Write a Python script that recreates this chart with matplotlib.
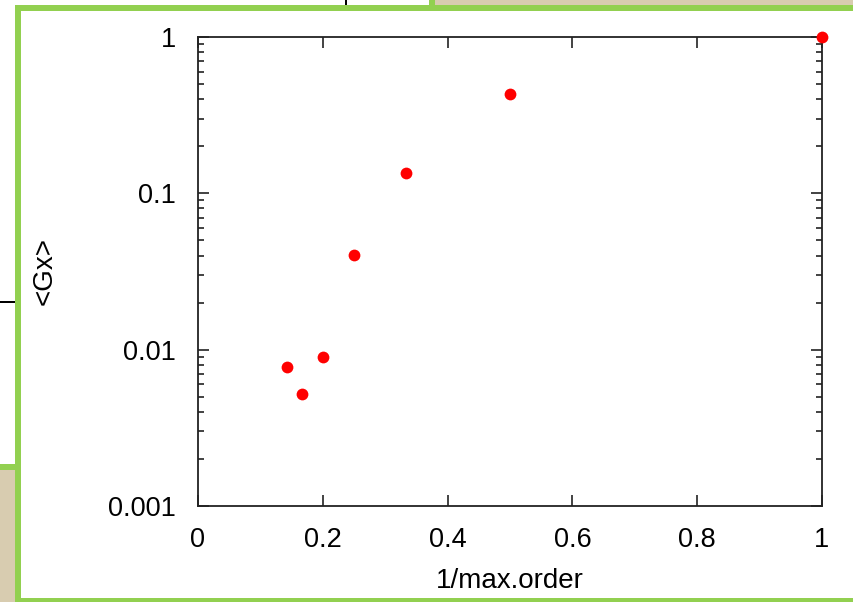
import matplotlib
matplotlib.use("Agg")
import matplotlib.pyplot as plt
from matplotlib.patches import Rectangle
from matplotlib.ticker import LogLocator, NullFormatter, FixedLocator

# data
inv_order = [1.0, 0.5, 1/3, 0.25, 0.2, 1/6, 1/7]
gx = [1.0, 0.43, 0.135, 0.0405, 0.0090, 0.0052, 0.0078]

x_ticks = [0, 0.2, 0.4, 0.6, 0.8, 1]
x_ticklabels = ['0', '0.2', '0.4', '0.6', '0.8', '1']
y_ticks = [0.001, 0.01, 0.1, 1]
y_ticklabels = ['0.001', '0.01', '0.1', '1']

W, H = 854, 602
GREEN = '#92d050'
BEIGE = '#d8ccb0'

plt.rcParams['font.family'] = ['Liberation Sans', 'DejaVu Sans']

fig = plt.figure(figsize=(W / 100, H / 100), dpi=100)
fig.patch.set_facecolor('white')


def box(x0, y0, x1, y1, color, z=0):
    # pixel box (top-left origin) -> figure fraction
    fig.add_artist(Rectangle((x0 / W, 1 - y1 / H), (x1 - x0) / W, (y1 - y0) / H,
                             transform=fig.transFigure, facecolor=color,
                             edgecolor='none', zorder=z))


# background bits of the screenshot
box(432, 0, W, 5, BEIGE)
box(429, 0, 435, 5, GREEN)
box(0, 468, 15, H, BEIGE)
box(0, 464, 15, 470, GREEN)
box(345.5, 0, 347.5, 5, 'black')
box(0, 301, 15, 303, 'black')
# main panel frame
box(15, 5, W, H, GREEN, 1)
box(21, 11, W, 598, 'white', 1)

ax = fig.add_axes([198 / W, 1 - 506 / H, (822 - 198) / W, (506 - 37) / H])
ax.set_zorder(5)
ax.set_facecolor('none')

ax.scatter(inv_order, gx, s=72, color='red', zorder=10, clip_on=False, linewidths=0)

ax.set_yscale('log')
ax.set_xlim(0, 1)
ax.set_ylim(0.001, 1)
ax.xaxis.set_major_locator(FixedLocator(x_ticks))
ax.set_xticklabels(x_ticklabels)
ax.yaxis.set_major_locator(FixedLocator(y_ticks))
ax.set_yticklabels(y_ticklabels)
ax.yaxis.set_minor_locator(LogLocator(base=10, subs=range(2, 10)))
ax.yaxis.set_minor_formatter(NullFormatter())

ax.tick_params(which='both', direction='in', top=True, right=True, labelsize=19.5,
               width=1.2, color='#222222')
ax.tick_params(which='major', length=8)
ax.tick_params(which='minor', length=4)
ax.tick_params(axis='x', pad=15)
ax.tick_params(axis='y', pad=16)
for s in ax.spines.values():
    s.set_linewidth(1.3)
    s.set_color('#222222')

ax.set_xlabel('1/max.order', fontsize=20, labelpad=11)
ax.set_ylabel('<Gx>', fontsize=20, labelpad=36)

fig.savefig('out.png', dpi=100)
